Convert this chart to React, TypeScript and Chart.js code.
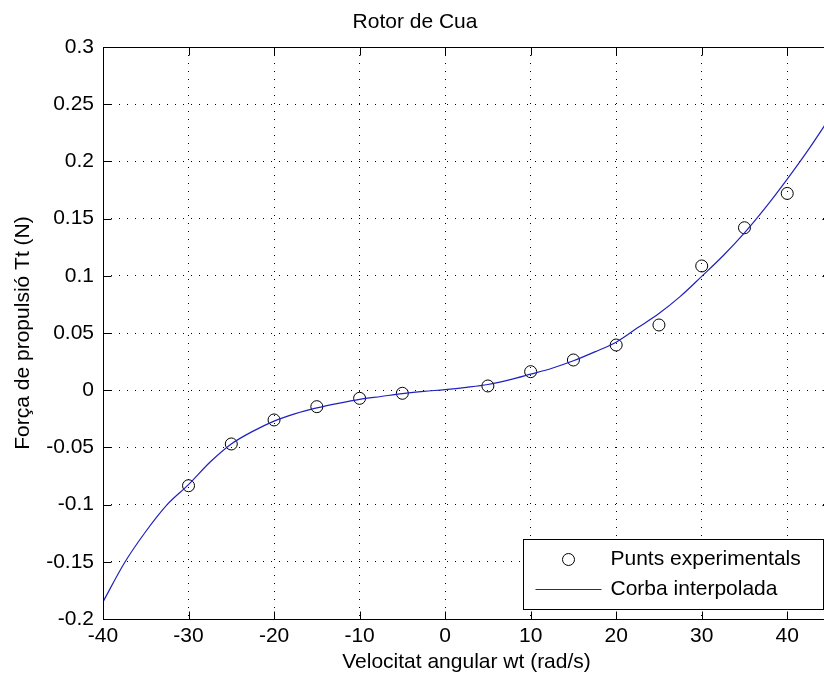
import React, { useEffect, useRef } from "react";
import { Chart, registerables } from "chart.js";

Chart.register(...registerables);

const chartTitle = "Rotor de Cua";
const xAxisTitle = "Velocitat angular wt (rad/s)";
const yAxisTitle = "Força de propulsió Tt (N)";
const legendLabels = ["Punts experimentals", "Corba interpolada"];

const xMin = -40;
const xMax = 45;
const yMin = -0.2;
const yMax = 0.3;

const xTicks = [-40, -30, -20, -10, 0, 10, 20, 30, 40];
const xTickLabels = ["-40", "-30", "-20", "-10", "0", "10", "20", "30", "40"];
const yTicks = [-0.2, -0.15, -0.1, -0.05, 0, 0.05, 0.1, 0.15, 0.2, 0.25, 0.3];
const yTickLabels = ["-0.2", "-0.15", "-0.1", "-0.05", "0", "0.05", "0.1", "0.15", "0.2", "0.25", "0.3"];

// experimental points
const pointsX = [-30, -25, -20, -15, -10, -5, 5, 10, 15, 20, 25, 30, 35, 40];
const pointsY = [-0.0835, -0.047, -0.026, -0.0144, -0.0071, -0.0027, 0.0037, 0.0162, 0.0264, 0.0395, 0.057, 0.1086, 0.142, 0.172];

// interpolated curve
const curveX = [
  -40, -37.5, -35, -32.5, -30, -27.5, -25, -22.5, -20, -17.5, -15, -12.5, -10, -7.5, -5, -2.5,
  0, 2.5, 5, 7.5, 10, 12.5, 15, 17.5, 20, 22.5, 25, 27.5, 30, 32.5, 35, 37.5, 40, 42.5, 45,
];
const curveY = [
  -0.185, -0.151, -0.1235, -0.1, -0.0825, -0.063, -0.047, -0.036, -0.027, -0.0205, -0.0155, -0.0115, -0.008, -0.0055, -0.003, -0.001,
  0.0005, 0.0025, 0.005, 0.009, 0.014, 0.0192, 0.0257, 0.0335, 0.042, 0.0545, 0.067, 0.082, 0.0995, 0.1175, 0.1375, 0.16, 0.1845, 0.2105, 0.2385,
];

const FONT = "'Liberation Sans', Arial, Helvetica, sans-serif";
const FS = 21;
const LINE_COLOR = "#2020c0";

const framePlugin = {
  id: "matlabFrame",
  afterDatasetsDraw(chart: any) {
    const { ctx, chartArea } = chart;
    const xs = chart.scales.x;
    const ys = chart.scales.y;
    const L = Math.round(chartArea.left) + 0.5;
    const R = Math.round(chartArea.right) + 0.5;
    const T = Math.round(chartArea.top) + 0.5;
    const B = Math.round(chartArea.bottom) + 0.5;
    ctx.save();
    ctx.strokeStyle = "#000";
    ctx.lineWidth = 1;
    ctx.setLineDash([]);
    ctx.beginPath();
    ctx.rect(L, T, R - L, B - T);
    ctx.stroke();
    const tl = 8;
    ctx.beginPath();
    xTicks.forEach((v) => {
      const px = Math.round(xs.getPixelForValue(v)) + 0.5;
      ctx.moveTo(px, B);
      ctx.lineTo(px, B - tl);
      ctx.moveTo(px, T);
      ctx.lineTo(px, T + tl);
    });
    yTicks.forEach((v) => {
      const py = Math.round(ys.getPixelForValue(v)) + 0.5;
      ctx.moveTo(L, py);
      ctx.lineTo(L + tl, py);
      ctx.moveTo(R, py);
      ctx.lineTo(R - tl, py);
    });
    ctx.stroke();

    // legend box inside chart area, bottom right
    const w = 300;
    const h = 70;
    const lx = Math.round(chartArea.right - 7 - w) + 0.5;
    const ly = Math.round(chartArea.bottom - 10 - h) + 0.5;
    ctx.fillStyle = "#fff";
    ctx.fillRect(lx, ly, w, h);
    ctx.strokeStyle = "#000";
    ctx.strokeRect(lx, ly, w, h);
    ctx.beginPath();
    ctx.arc(lx + 45, ly + 20, 6, 0, Math.PI * 2);
    ctx.stroke();
    ctx.strokeStyle = LINE_COLOR;
    ctx.lineWidth = 1.2;
    ctx.beginPath();
    ctx.moveTo(lx + 12, ly + 50);
    ctx.lineTo(lx + 78, ly + 50);
    ctx.stroke();
    ctx.fillStyle = "#000";
    ctx.font = `${FS}px ${FONT}`;
    ctx.textBaseline = "middle";
    ctx.textAlign = "left";
    ctx.fillText(legendLabels[0], lx + 87, ly + 20);
    ctx.fillText(legendLabels[1], lx + 87, ly + 50);
    ctx.restore();
  },
};

export default function App() {
  const ref = useRef<HTMLCanvasElement>(null);
  useEffect(() => {
    if (!ref.current) return;
    const scatterData = pointsX.map((x, i) => ({ x, y: pointsY[i] }));
    const curveData = curveX.map((x, i) => ({ x, y: curveY[i] }));
    const chart = new Chart(ref.current, {
      type: "scatter",
      data: {
        datasets: [
          {
            label: legendLabels[0],
            data: scatterData,
            showLine: false,
            pointStyle: "circle",
            pointRadius: 6,
            pointBorderWidth: 1,
            pointBorderColor: "#000",
            pointBackgroundColor: "rgba(0,0,0,0)",
            order: 2,
          } as any,
          {
            label: legendLabels[1],
            data: curveData,
            showLine: true,
            borderColor: LINE_COLOR,
            borderWidth: 1.2,
            pointRadius: 0,
            cubicInterpolationMode: "monotone",
            order: 1,
          } as any,
        ],
      },
      options: {
        responsive: false,
        maintainAspectRatio: false,
        animation: false,
        devicePixelRatio: 1,
        layout: { padding: { left: 0, right: 10, top: 0, bottom: 0 } },
        plugins: {
          legend: { display: false },
          tooltip: { enabled: false },
          title: {
            display: true,
            text: chartTitle,
            color: "#000",
            font: { family: FONT, size: FS, weight: "normal" },
            padding: { top: 10, bottom: 11.8 },
          },
        },
        scales: {
          x: {
            type: "linear",
            min: xMin,
            max: xMax,
            afterBuildTicks: (s: any) => {
              s.ticks = xTicks.map((v) => ({ value: v }));
            },
            afterFit: (s: any) => {
              s.height = 61;
            },
            grid: { color: "#000", lineWidth: 1, drawTicks: false },
            border: { display: false, dash: [1, 7] },
            ticks: {
              color: "#000",
              font: { family: FONT, size: FS },
              padding: 5,
              maxRotation: 0,
              autoSkip: false,
              callback: (v: any) => xTickLabels[xTicks.indexOf(Number(v))],
            },
            title: {
              display: true,
              text: xAxisTitle,
              color: "#000",
              font: { family: FONT, size: FS },
              padding: { top: 0, bottom: 5.4 },
            },
          },
          y: {
            type: "linear",
            min: yMin,
            max: yMax,
            afterBuildTicks: (s: any) => {
              s.ticks = yTicks.map((v) => ({ value: v }));
            },
            afterFit: (s: any) => {
              s.width = 103;
            },
            grid: { color: "#000", lineWidth: 1, drawTicks: false },
            border: { display: false, dash: [1, 7] },
            ticks: {
              color: "#000",
              font: { family: FONT, size: FS },
              padding: 9,
              autoSkip: false,
              callback: (v: any) => yTickLabels[yTicks.indexOf(Number(v))],
            },
            title: {
              display: true,
              text: yAxisTitle,
              color: "#000",
              font: { family: FONT, size: FS },
              padding: { top: 10.4, bottom: 0 },
            },
          },
        },
      },
      plugins: [framePlugin],
    } as any);
    return () => chart.destroy();
  }, []);
  return (
    <div style={{ position: "fixed", left: 0, top: 0, width: 840, height: 680, background: "#fff", overflow: "hidden" }}>
      <canvas ref={ref} width={840} height={680} style={{ display: "block", width: 840, height: 680 }} />
    </div>
  );
}
